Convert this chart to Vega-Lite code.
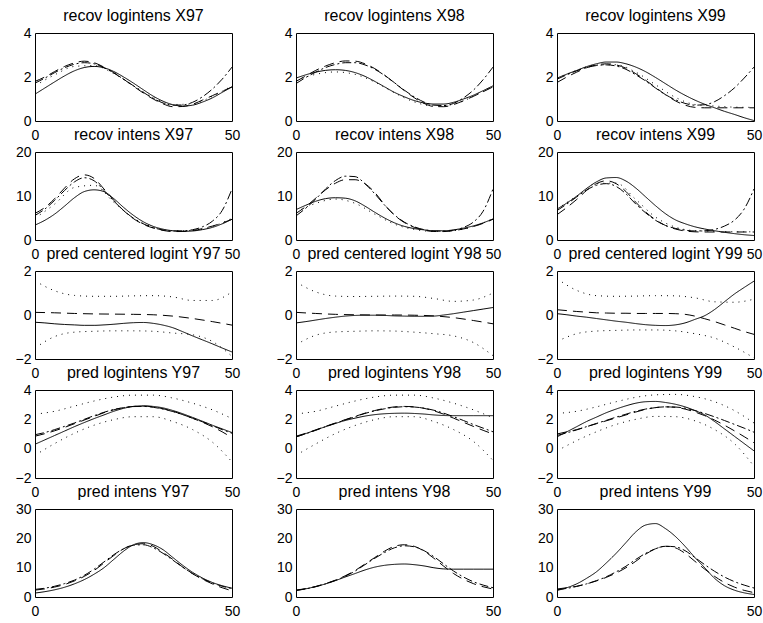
{
"$schema":"https://vega.github.io/schema/vega-lite/v6.json",
"background":"white",
"padding":{"left":14,"top":7,"right":0,"bottom":0},
"columns":3,
"spacing":{"row":31,"column":64},
"bounds":"flush",
"resolve":{"scale":{"x":"independent","y":"independent"}},
"config":{
"view":{"stroke":"black","strokeWidth":1},
"font":"Liberation Sans",
"axis":{"domain":false,"grid":false,"ticks":false,"labelFontSize":14,"labelColor":"black","labelFont":"Liberation Sans","labelFlush":false,"labelOverlap":false},
"axisX":{"labelPadding":7},
"axisY":{"labelPadding":4},
"title":{"fontSize":16,"fontWeight":"normal","font":"Liberation Sans","color":"black","offset":2,"baseline":"alphabetic"},
"line":{"color":"black","strokeWidth":1,"interpolate":"monotone","clip":true}
},
"concat":[
{"title":"recov logintens X97","width":197,"height":88,
"data":{"values":[
{"x":0,"s":"a","y":1.22},{"x":2.5,"s":"a","y":1.5},{"x":5,"s":"a","y":1.78},{"x":7.5,"s":"a","y":2.05},{"x":10,"s":"a","y":2.28},{"x":12.5,"s":"a","y":2.43},{"x":15,"s":"a","y":2.48},{"x":17.5,"s":"a","y":2.42},{"x":20,"s":"a","y":2.25},{"x":22.5,"s":"a","y":2.0},{"x":25,"s":"a","y":1.72},{"x":27.5,"s":"a","y":1.42},{"x":30,"s":"a","y":1.13},{"x":32.5,"s":"a","y":0.9},{"x":35,"s":"a","y":0.74},{"x":37.5,"s":"a","y":0.68},{"x":40,"s":"a","y":0.72},{"x":42.5,"s":"a","y":0.86},{"x":45,"s":"a","y":1.05},{"x":47.5,"s":"a","y":1.3},{"x":50,"s":"a","y":1.55},
{"x":0,"s":"b","y":1.8},{"x":2.5,"s":"b","y":2.0},{"x":5,"s":"b","y":2.25},{"x":7.5,"s":"b","y":2.48},{"x":10,"s":"b","y":2.64},{"x":12.5,"s":"b","y":2.72},{"x":15,"s":"b","y":2.65},{"x":17.5,"s":"b","y":2.45},{"x":20,"s":"b","y":2.2},{"x":22.5,"s":"b","y":1.9},{"x":25,"s":"b","y":1.58},{"x":27.5,"s":"b","y":1.27},{"x":30,"s":"b","y":1.0},{"x":32.5,"s":"b","y":0.78},{"x":35,"s":"b","y":0.65},{"x":37.5,"s":"b","y":0.66},{"x":40,"s":"b","y":0.76},{"x":42.5,"s":"b","y":0.95},{"x":45,"s":"b","y":1.15},{"x":47.5,"s":"b","y":1.35},{"x":50,"s":"b","y":1.55},
{"x":0,"s":"c","y":1.72},{"x":2.5,"s":"c","y":1.95},{"x":5,"s":"c","y":2.2},{"x":7.5,"s":"c","y":2.42},{"x":10,"s":"c","y":2.58},{"x":12.5,"s":"c","y":2.65},{"x":15,"s":"c","y":2.6},{"x":17.5,"s":"c","y":2.42},{"x":20,"s":"c","y":2.18},{"x":22.5,"s":"c","y":1.9},{"x":25,"s":"c","y":1.6},{"x":27.5,"s":"c","y":1.3},{"x":30,"s":"c","y":1.03},{"x":32.5,"s":"c","y":0.82},{"x":35,"s":"c","y":0.72},{"x":37.5,"s":"c","y":0.73},{"x":40,"s":"c","y":0.85},{"x":42.5,"s":"c","y":1.1},{"x":45,"s":"c","y":1.45},{"x":47.5,"s":"c","y":1.9},{"x":50,"s":"c","y":2.45},
{"x":0,"s":"d","y":1.6},{"x":5,"s":"d","y":2.1},{"x":10,"s":"d","y":2.48},{"x":15,"s":"d","y":2.52},{"x":20,"s":"d","y":2.15},{"x":25,"s":"d","y":1.6},{"x":30,"s":"d","y":1.07},{"x":35,"s":"d","y":0.75},{"x":40,"s":"d","y":0.78},{"x":45,"s":"d","y":1.12},{"x":50,"s":"d","y":1.6}
]},
"mark":"line",
"encoding":{
"x":{"field":"x","type":"quantitative","scale":{"domain":[0,50]},"axis":{"values":[0,50],"title":null}},
"y":{"field":"y","type":"quantitative","scale":{"domain":[0,4]},"axis":{"values":[0,2,4],"title":null}},
"strokeDash":{"field":"s","type":"nominal","scale":{"domain":["a","b","c","d","e"],"range":[[1,0],[10,6],[9,3,2,3],[1,5],[1,5]]},"legend":null}}},
{"title":"recov logintens X98","width":197,"height":88,
"data":{"values":[
{"x":0,"s":"a","y":1.95},{"x":2.5,"s":"a","y":2.1},{"x":5,"s":"a","y":2.22},{"x":7.5,"s":"a","y":2.3},{"x":10,"s":"a","y":2.33},{"x":12.5,"s":"a","y":2.3},{"x":15,"s":"a","y":2.2},{"x":17.5,"s":"a","y":2.03},{"x":20,"s":"a","y":1.8},{"x":22.5,"s":"a","y":1.55},{"x":25,"s":"a","y":1.3},{"x":27.5,"s":"a","y":1.1},{"x":30,"s":"a","y":0.93},{"x":32.5,"s":"a","y":0.82},{"x":35,"s":"a","y":0.77},{"x":37.5,"s":"a","y":0.77},{"x":40,"s":"a","y":0.85},{"x":42.5,"s":"a","y":1.0},{"x":45,"s":"a","y":1.17},{"x":47.5,"s":"a","y":1.38},{"x":50,"s":"a","y":1.6},
{"x":0,"s":"b","y":1.8},{"x":2.5,"s":"b","y":2.05},{"x":5,"s":"b","y":2.3},{"x":7.5,"s":"b","y":2.5},{"x":10,"s":"b","y":2.65},{"x":12.5,"s":"b","y":2.73},{"x":15,"s":"b","y":2.72},{"x":17.5,"s":"b","y":2.6},{"x":20,"s":"b","y":2.38},{"x":22.5,"s":"b","y":2.08},{"x":25,"s":"b","y":1.73},{"x":27.5,"s":"b","y":1.38},{"x":30,"s":"b","y":1.06},{"x":32.5,"s":"b","y":0.8},{"x":35,"s":"b","y":0.66},{"x":37.5,"s":"b","y":0.65},{"x":40,"s":"b","y":0.75},{"x":42.5,"s":"b","y":0.92},{"x":45,"s":"b","y":1.12},{"x":47.5,"s":"b","y":1.33},{"x":50,"s":"b","y":1.55},
{"x":0,"s":"c","y":1.7},{"x":2.5,"s":"c","y":1.98},{"x":5,"s":"c","y":2.22},{"x":7.5,"s":"c","y":2.43},{"x":10,"s":"c","y":2.57},{"x":12.5,"s":"c","y":2.65},{"x":15,"s":"c","y":2.65},{"x":17.5,"s":"c","y":2.55},{"x":20,"s":"c","y":2.35},{"x":22.5,"s":"c","y":2.07},{"x":25,"s":"c","y":1.74},{"x":27.5,"s":"c","y":1.4},{"x":30,"s":"c","y":1.1},{"x":32.5,"s":"c","y":0.86},{"x":35,"s":"c","y":0.72},{"x":37.5,"s":"c","y":0.7},{"x":40,"s":"c","y":0.8},{"x":42.5,"s":"c","y":1.05},{"x":45,"s":"c","y":1.4},{"x":47.5,"s":"c","y":1.88},{"x":50,"s":"c","y":2.45},
{"x":0,"s":"d","y":1.85},{"x":5,"s":"d","y":2.12},{"x":10,"s":"d","y":2.23},{"x":15,"s":"d","y":2.12},{"x":20,"s":"d","y":1.77},{"x":25,"s":"d","y":1.28},{"x":30,"s":"d","y":0.87},{"x":35,"s":"d","y":0.68},{"x":40,"s":"d","y":0.76},{"x":45,"s":"d","y":1.12},{"x":50,"s":"d","y":1.58}
]},
"mark":"line",
"encoding":{
"x":{"field":"x","type":"quantitative","scale":{"domain":[0,50]},"axis":{"values":[0,50],"title":null}},
"y":{"field":"y","type":"quantitative","scale":{"domain":[0,4]},"axis":{"values":[0,2,4],"title":null}},
"strokeDash":{"field":"s","type":"nominal","scale":{"domain":["a","b","c","d","e"],"range":[[1,0],[10,6],[9,3,2,3],[1,5],[1,5]]},"legend":null}}},
{"title":"recov logintens X99","width":197,"height":88,
"data":{"values":[
{"x":0,"s":"a","y":1.95},{"x":2.5,"s":"a","y":2.13},{"x":5,"s":"a","y":2.3},{"x":7.5,"s":"a","y":2.47},{"x":10,"s":"a","y":2.6},{"x":12.5,"s":"a","y":2.68},{"x":15,"s":"a","y":2.68},{"x":17.5,"s":"a","y":2.6},{"x":20,"s":"a","y":2.45},{"x":22.5,"s":"a","y":2.24},{"x":25,"s":"a","y":1.98},{"x":27.5,"s":"a","y":1.7},{"x":30,"s":"a","y":1.42},{"x":32.5,"s":"a","y":1.17},{"x":35,"s":"a","y":0.95},{"x":37.5,"s":"a","y":0.76},{"x":40,"s":"a","y":0.6},{"x":42.5,"s":"a","y":0.44},{"x":45,"s":"a","y":0.3},{"x":47.5,"s":"a","y":0.15},{"x":50,"s":"a","y":0.02},
{"x":0,"s":"b","y":1.75},{"x":2.5,"s":"b","y":2.0},{"x":5,"s":"b","y":2.22},{"x":7.5,"s":"b","y":2.42},{"x":10,"s":"b","y":2.55},{"x":12.5,"s":"b","y":2.6},{"x":15,"s":"b","y":2.55},{"x":17.5,"s":"b","y":2.4},{"x":20,"s":"b","y":2.15},{"x":22.5,"s":"b","y":1.85},{"x":25,"s":"b","y":1.53},{"x":27.5,"s":"b","y":1.2},{"x":30,"s":"b","y":0.92},{"x":32.5,"s":"b","y":0.72},{"x":35,"s":"b","y":0.62},{"x":37.5,"s":"b","y":0.6},{"x":40,"s":"b","y":0.6},{"x":42.5,"s":"b","y":0.6},{"x":45,"s":"b","y":0.6},{"x":47.5,"s":"b","y":0.6},{"x":50,"s":"b","y":0.6},
{"x":0,"s":"c","y":1.9},{"x":2.5,"s":"c","y":2.1},{"x":5,"s":"c","y":2.28},{"x":7.5,"s":"c","y":2.43},{"x":10,"s":"c","y":2.52},{"x":12.5,"s":"c","y":2.55},{"x":15,"s":"c","y":2.5},{"x":17.5,"s":"c","y":2.35},{"x":20,"s":"c","y":2.1},{"x":22.5,"s":"c","y":1.82},{"x":25,"s":"c","y":1.5},{"x":27.5,"s":"c","y":1.2},{"x":30,"s":"c","y":0.97},{"x":32.5,"s":"c","y":0.8},{"x":35,"s":"c","y":0.72},{"x":37.5,"s":"c","y":0.74},{"x":40,"s":"c","y":0.88},{"x":42.5,"s":"c","y":1.15},{"x":45,"s":"c","y":1.5},{"x":47.5,"s":"c","y":1.95},{"x":50,"s":"c","y":2.45},
{"x":0,"s":"d","y":1.95},{"x":5,"s":"d","y":2.3},{"x":10,"s":"d","y":2.55},{"x":15,"s":"d","y":2.56},{"x":20,"s":"d","y":2.22},{"x":25,"s":"d","y":1.65},{"x":30,"s":"d","y":1.08},{"x":35,"s":"d","y":0.75},{"x":40,"s":"d","y":0.68},{"x":45,"s":"d","y":0.63},{"x":50,"s":"d","y":0.62}
]},
"mark":"line",
"encoding":{
"x":{"field":"x","type":"quantitative","scale":{"domain":[0,50]},"axis":{"values":[0,50],"title":null}},
"y":{"field":"y","type":"quantitative","scale":{"domain":[0,4]},"axis":{"values":[0,2,4],"title":null}},
"strokeDash":{"field":"s","type":"nominal","scale":{"domain":["a","b","c","d","e"],"range":[[1,0],[10,6],[9,3,2,3],[1,5],[1,5]]},"legend":null}}},
{"title":"recov intens X97","width":197,"height":88,
"data":{"values":[
{"x":0,"s":"a","y":3.39},{"x":2.5,"s":"a","y":4.48},{"x":5,"s":"a","y":5.9},{"x":7.5,"s":"a","y":7.7},{"x":10,"s":"a","y":9.6},{"x":12.5,"s":"a","y":11.0},{"x":15,"s":"a","y":11.4},{"x":17.5,"s":"a","y":11.0},{"x":20,"s":"a","y":9.4},{"x":22.5,"s":"a","y":7.4},{"x":25,"s":"a","y":5.6},{"x":27.5,"s":"a","y":4.14},{"x":30,"s":"a","y":3.1},{"x":32.5,"s":"a","y":2.46},{"x":35,"s":"a","y":2.1},{"x":37.5,"s":"a","y":1.97},{"x":40,"s":"a","y":2.05},{"x":42.5,"s":"a","y":2.36},{"x":45,"s":"a","y":2.86},{"x":47.5,"s":"a","y":3.67},{"x":50,"s":"a","y":4.71},
{"x":0,"s":"b","y":6.05},{"x":2.5,"s":"b","y":7.39},{"x":5,"s":"b","y":9.4},{"x":7.5,"s":"b","y":11.8},{"x":10,"s":"b","y":13.9},{"x":12.5,"s":"b","y":14.8},{"x":15,"s":"b","y":14.0},{"x":17.5,"s":"b","y":11.6},{"x":20,"s":"b","y":9.03},{"x":22.5,"s":"b","y":6.69},{"x":25,"s":"b","y":4.85},{"x":27.5,"s":"b","y":3.56},{"x":30,"s":"b","y":2.72},{"x":32.5,"s":"b","y":2.18},{"x":35,"s":"b","y":1.92},{"x":37.5,"s":"b","y":1.93},{"x":40,"s":"b","y":2.14},{"x":42.5,"s":"b","y":2.59},{"x":45,"s":"b","y":3.16},{"x":47.5,"s":"b","y":3.86},{"x":50,"s":"b","y":4.71},
{"x":0,"s":"c","y":5.58},{"x":2.5,"s":"c","y":7.03},{"x":5,"s":"c","y":9.03},{"x":7.5,"s":"c","y":11.25},{"x":10,"s":"c","y":13.2},{"x":12.5,"s":"c","y":14.15},{"x":15,"s":"c","y":13.46},{"x":17.5,"s":"c","y":11.25},{"x":20,"s":"c","y":8.85},{"x":22.5,"s":"c","y":6.69},{"x":25,"s":"c","y":4.95},{"x":27.5,"s":"c","y":3.67},{"x":30,"s":"c","y":2.8},{"x":32.5,"s":"c","y":2.27},{"x":35,"s":"c","y":2.05},{"x":37.5,"s":"c","y":2.08},{"x":40,"s":"c","y":2.34},{"x":42.5,"s":"c","y":3.0},{"x":45,"s":"c","y":4.26},{"x":47.5,"s":"c","y":6.69},{"x":50,"s":"c","y":11.59},
{"x":0,"s":"d","y":4.95},{"x":5,"s":"d","y":8.17},{"x":10,"s":"d","y":11.94},{"x":15,"s":"d","y":12.43},{"x":20,"s":"d","y":8.58},{"x":25,"s":"d","y":4.95},{"x":30,"s":"d","y":2.92},{"x":35,"s":"d","y":2.12},{"x":40,"s":"d","y":2.18},{"x":45,"s":"d","y":3.06},{"x":50,"s":"d","y":4.95}
]},
"mark":"line",
"encoding":{
"x":{"field":"x","type":"quantitative","scale":{"domain":[0,50]},"axis":{"values":[0,50],"title":null}},
"y":{"field":"y","type":"quantitative","scale":{"domain":[0,20]},"axis":{"values":[0,10,20],"title":null}},
"strokeDash":{"field":"s","type":"nominal","scale":{"domain":["a","b","c","d","e"],"range":[[1,0],[10,6],[9,3,2,3],[1,5],[1,5]]},"legend":null}}},
{"title":"recov intens X98","width":197,"height":88,
"data":{"values":[
{"x":0,"s":"a","y":6.9},{"x":2.5,"s":"a","y":7.9},{"x":5,"s":"a","y":8.8},{"x":7.5,"s":"a","y":9.4},{"x":10,"s":"a","y":9.6},{"x":12.5,"s":"a","y":9.5},{"x":15,"s":"a","y":8.9},{"x":17.5,"s":"a","y":7.7},{"x":20,"s":"a","y":6.3},{"x":22.5,"s":"a","y":5.0},{"x":25,"s":"a","y":3.9},{"x":27.5,"s":"a","y":3.1},{"x":30,"s":"a","y":2.6},{"x":32.5,"s":"a","y":2.3},{"x":35,"s":"a","y":2.1},{"x":37.5,"s":"a","y":2.1},{"x":40,"s":"a","y":2.3},{"x":42.5,"s":"a","y":2.7},{"x":45,"s":"a","y":3.2},{"x":47.5,"s":"a","y":3.9},{"x":50,"s":"a","y":4.8},
{"x":0,"s":"b","y":6.05},{"x":2.5,"s":"b","y":7.6},{"x":5,"s":"b","y":9.5},{"x":7.5,"s":"b","y":11.4},{"x":10,"s":"b","y":12.9},{"x":12.5,"s":"b","y":13.7},{"x":15,"s":"b","y":13.7},{"x":17.5,"s":"b","y":12.8},{"x":20,"s":"b","y":10.8},{"x":22.5,"s":"b","y":8.0},{"x":25,"s":"b","y":5.64},{"x":27.5,"s":"b","y":3.97},{"x":30,"s":"b","y":2.89},{"x":32.5,"s":"b","y":2.23},{"x":35,"s":"b","y":1.93},{"x":37.5,"s":"b","y":1.92},{"x":40,"s":"b","y":2.12},{"x":42.5,"s":"b","y":2.51},{"x":45,"s":"b","y":3.06},{"x":47.5,"s":"b","y":3.78},{"x":50,"s":"b","y":4.71},
{"x":0,"s":"c","y":5.47},{"x":2.5,"s":"c","y":7.24},{"x":5,"s":"c","y":9.3},{"x":7.5,"s":"c","y":11.6},{"x":10,"s":"c","y":13.5},{"x":12.5,"s":"c","y":14.5},{"x":15,"s":"c","y":14.4},{"x":17.5,"s":"c","y":12.8},{"x":20,"s":"c","y":10.49},{"x":22.5,"s":"c","y":7.92},{"x":25,"s":"c","y":5.7},{"x":27.5,"s":"c","y":4.06},{"x":30,"s":"c","y":3.0},{"x":32.5,"s":"c","y":2.36},{"x":35,"s":"c","y":2.05},{"x":37.5,"s":"c","y":2.01},{"x":40,"s":"c","y":2.23},{"x":42.5,"s":"c","y":2.86},{"x":45,"s":"c","y":4.06},{"x":47.5,"s":"c","y":6.55},{"x":50,"s":"c","y":11.59},
{"x":0,"s":"d","y":6.36},{"x":5,"s":"d","y":8.33},{"x":10,"s":"d","y":9.3},{"x":15,"s":"d","y":8.33},{"x":20,"s":"d","y":5.87},{"x":25,"s":"d","y":3.6},{"x":30,"s":"d","y":2.39},{"x":35,"s":"d","y":1.97},{"x":40,"s":"d","y":2.14},{"x":45,"s":"d","y":3.06},{"x":50,"s":"d","y":4.85}
]},
"mark":"line",
"encoding":{
"x":{"field":"x","type":"quantitative","scale":{"domain":[0,50]},"axis":{"values":[0,50],"title":null}},
"y":{"field":"y","type":"quantitative","scale":{"domain":[0,20]},"axis":{"values":[0,10,20],"title":null}},
"strokeDash":{"field":"s","type":"nominal","scale":{"domain":["a","b","c","d","e"],"range":[[1,0],[10,6],[9,3,2,3],[1,5],[1,5]]},"legend":null}}},
{"title":"recov intens X99","width":197,"height":88,
"data":{"values":[
{"x":0,"s":"a","y":7.03},{"x":2.5,"s":"a","y":8.41},{"x":5,"s":"a","y":9.97},{"x":7.5,"s":"a","y":11.7},{"x":10,"s":"a","y":13.2},{"x":12.5,"s":"a","y":14.1},{"x":15,"s":"a","y":14.2},{"x":17.5,"s":"a","y":13.4},{"x":20,"s":"a","y":11.8},{"x":22.5,"s":"a","y":9.8},{"x":25,"s":"a","y":7.8},{"x":27.5,"s":"a","y":6.0},{"x":30,"s":"a","y":4.6},{"x":32.5,"s":"a","y":3.7},{"x":35,"s":"a","y":3.0},{"x":37.5,"s":"a","y":2.5},{"x":40,"s":"a","y":2.1},{"x":42.5,"s":"a","y":1.75},{"x":45,"s":"a","y":1.45},{"x":47.5,"s":"a","y":1.2},{"x":50,"s":"a","y":1.02},
{"x":0,"s":"b","y":5.75},{"x":2.5,"s":"b","y":7.39},{"x":5,"s":"b","y":9.21},{"x":7.5,"s":"b","y":11.25},{"x":10,"s":"b","y":12.81},{"x":12.5,"s":"b","y":13.46},{"x":15,"s":"b","y":12.81},{"x":17.5,"s":"b","y":11.02},{"x":20,"s":"b","y":8.58},{"x":22.5,"s":"b","y":6.36},{"x":25,"s":"b","y":4.62},{"x":27.5,"s":"b","y":3.32},{"x":30,"s":"b","y":2.51},{"x":32.5,"s":"b","y":2.05},{"x":35,"s":"b","y":1.86},{"x":37.5,"s":"b","y":1.82},{"x":40,"s":"b","y":1.82},{"x":42.5,"s":"b","y":1.82},{"x":45,"s":"b","y":1.82},{"x":47.5,"s":"b","y":1.82},{"x":50,"s":"b","y":1.82},
{"x":0,"s":"c","y":6.69},{"x":2.5,"s":"c","y":8.17},{"x":5,"s":"c","y":9.78},{"x":7.5,"s":"c","y":11.36},{"x":10,"s":"c","y":12.43},{"x":12.5,"s":"c","y":12.81},{"x":15,"s":"c","y":12.18},{"x":17.5,"s":"c","y":10.49},{"x":20,"s":"c","y":8.17},{"x":22.5,"s":"c","y":6.17},{"x":25,"s":"c","y":4.48},{"x":27.5,"s":"c","y":3.32},{"x":30,"s":"c","y":2.64},{"x":32.5,"s":"c","y":2.23},{"x":35,"s":"c","y":2.05},{"x":37.5,"s":"c","y":2.1},{"x":40,"s":"c","y":2.41},{"x":42.5,"s":"c","y":3.16},{"x":45,"s":"c","y":4.48},{"x":47.5,"s":"c","y":7.03},{"x":50,"s":"c","y":11.59},
{"x":0,"s":"d","y":7.03},{"x":5,"s":"d","y":9.97},{"x":10,"s":"d","y":12.81},{"x":15,"s":"d","y":12.94},{"x":20,"s":"d","y":9.21},{"x":25,"s":"d","y":5.21},{"x":30,"s":"d","y":2.94},{"x":35,"s":"d","y":2.12},{"x":40,"s":"d","y":1.97},{"x":45,"s":"d","y":1.88},{"x":50,"s":"d","y":1.86}
]},
"mark":"line",
"encoding":{
"x":{"field":"x","type":"quantitative","scale":{"domain":[0,50]},"axis":{"values":[0,50],"title":null}},
"y":{"field":"y","type":"quantitative","scale":{"domain":[0,20]},"axis":{"values":[0,10,20],"title":null}},
"strokeDash":{"field":"s","type":"nominal","scale":{"domain":["a","b","c","d","e"],"range":[[1,0],[10,6],[9,3,2,3],[1,5],[1,5]]},"legend":null}}},
{"title":"pred centered logint Y97","width":197,"height":88,
"data":{"values":[
{"x":0,"s":"a","y":-0.33},{"x":2.5,"s":"a","y":-0.36},{"x":5,"s":"a","y":-0.4},{"x":7.5,"s":"a","y":-0.43},{"x":10,"s":"a","y":-0.45},{"x":12.5,"s":"a","y":-0.47},{"x":15,"s":"a","y":-0.47},{"x":17.5,"s":"a","y":-0.45},{"x":20,"s":"a","y":-0.42},{"x":22.5,"s":"a","y":-0.38},{"x":25,"s":"a","y":-0.35},{"x":27.5,"s":"a","y":-0.34},{"x":30,"s":"a","y":-0.38},{"x":32.5,"s":"a","y":-0.46},{"x":35,"s":"a","y":-0.58},{"x":37.5,"s":"a","y":-0.76},{"x":40,"s":"a","y":-0.95},{"x":42.5,"s":"a","y":-1.13},{"x":45,"s":"a","y":-1.31},{"x":47.5,"s":"a","y":-1.5},{"x":50,"s":"a","y":-1.68},
{"x":0,"s":"b","y":0.12},{"x":5,"s":"b","y":0.1},{"x":10,"s":"b","y":0.07},{"x":15,"s":"b","y":0.05},{"x":20,"s":"b","y":0.04},{"x":25,"s":"b","y":0.03},{"x":30,"s":"b","y":0.01},{"x":35,"s":"b","y":-0.05},{"x":40,"s":"b","y":-0.16},{"x":45,"s":"b","y":-0.3},{"x":50,"s":"b","y":-0.46},
{"x":0,"s":"d","y":1.55},{"x":5,"s":"d","y":1.1},{"x":10,"s":"d","y":0.89},{"x":15,"s":"d","y":0.85},{"x":20,"s":"d","y":0.85},{"x":25,"s":"d","y":0.87},{"x":30,"s":"d","y":0.88},{"x":35,"s":"d","y":0.82},{"x":40,"s":"d","y":0.66},{"x":45,"s":"d","y":0.66},{"x":50,"s":"d","y":1.05},
{"x":0,"s":"e","y":-1.5},{"x":5,"s":"e","y":-0.98},{"x":10,"s":"e","y":-0.78},{"x":15,"s":"e","y":-0.74},{"x":20,"s":"e","y":-0.72},{"x":25,"s":"e","y":-0.72},{"x":30,"s":"e","y":-0.74},{"x":35,"s":"e","y":-0.82},{"x":40,"s":"e","y":-0.9},{"x":45,"s":"e","y":-1.2},{"x":50,"s":"e","y":-1.88}
]},
"mark":"line",
"encoding":{
"x":{"field":"x","type":"quantitative","scale":{"domain":[0,50]},"axis":{"values":[0,50],"title":null}},
"y":{"field":"y","type":"quantitative","scale":{"domain":[-2,2]},"axis":{"values":[-2,0,2],"title":null}},
"strokeDash":{"field":"s","type":"nominal","scale":{"domain":["a","b","c","d","e"],"range":[[1,0],[10,6],[9,3,2,3],[1,5],[1,5]]},"legend":null}}},
{"title":"pred centered logint Y98","width":197,"height":88,
"data":{"values":[
{"x":0,"s":"a","y":-0.36},{"x":2.5,"s":"a","y":-0.3},{"x":5,"s":"a","y":-0.23},{"x":7.5,"s":"a","y":-0.16},{"x":10,"s":"a","y":-0.1},{"x":12.5,"s":"a","y":-0.05},{"x":15,"s":"a","y":-0.02},{"x":17.5,"s":"a","y":-0.01},{"x":20,"s":"a","y":-0.01},{"x":22.5,"s":"a","y":-0.02},{"x":25,"s":"a","y":-0.04},{"x":27.5,"s":"a","y":-0.05},{"x":30,"s":"a","y":-0.06},{"x":32.5,"s":"a","y":-0.06},{"x":35,"s":"a","y":-0.05},{"x":37.5,"s":"a","y":0.0},{"x":40,"s":"a","y":0.06},{"x":42.5,"s":"a","y":0.13},{"x":45,"s":"a","y":0.2},{"x":47.5,"s":"a","y":0.27},{"x":50,"s":"a","y":0.34},
{"x":0,"s":"b","y":0.12},{"x":5,"s":"b","y":0.07},{"x":10,"s":"b","y":0.03},{"x":15,"s":"b","y":0.01},{"x":20,"s":"b","y":0.0},{"x":25,"s":"b","y":0.0},{"x":30,"s":"b","y":-0.01},{"x":35,"s":"b","y":-0.04},{"x":40,"s":"b","y":-0.12},{"x":45,"s":"b","y":-0.25},{"x":50,"s":"b","y":-0.4},
{"x":0,"s":"d","y":1.5},{"x":5,"s":"d","y":1.05},{"x":10,"s":"d","y":0.86},{"x":15,"s":"d","y":0.84},{"x":20,"s":"d","y":0.85},{"x":25,"s":"d","y":0.86},{"x":30,"s":"d","y":0.85},{"x":35,"s":"d","y":0.75},{"x":40,"s":"d","y":0.62},{"x":45,"s":"d","y":0.68},{"x":50,"s":"d","y":1.0},
{"x":0,"s":"e","y":-1.35},{"x":5,"s":"e","y":-0.92},{"x":10,"s":"e","y":-0.77},{"x":15,"s":"e","y":-0.74},{"x":20,"s":"e","y":-0.72},{"x":25,"s":"e","y":-0.73},{"x":30,"s":"e","y":-0.78},{"x":35,"s":"e","y":-0.85},{"x":40,"s":"e","y":-0.95},{"x":45,"s":"e","y":-1.25},{"x":50,"s":"e","y":-1.85}
]},
"mark":"line",
"encoding":{
"x":{"field":"x","type":"quantitative","scale":{"domain":[0,50]},"axis":{"values":[0,50],"title":null}},
"y":{"field":"y","type":"quantitative","scale":{"domain":[-2,2]},"axis":{"values":[-2,0,2],"title":null}},
"strokeDash":{"field":"s","type":"nominal","scale":{"domain":["a","b","c","d","e"],"range":[[1,0],[10,6],[9,3,2,3],[1,5],[1,5]]},"legend":null}}},
{"title":"pred centered logint Y99","width":197,"height":88,
"data":{"values":[
{"x":0,"s":"a","y":0.06},{"x":2.5,"s":"a","y":0.01},{"x":5,"s":"a","y":-0.05},{"x":7.5,"s":"a","y":-0.1},{"x":10,"s":"a","y":-0.16},{"x":12.5,"s":"a","y":-0.22},{"x":15,"s":"a","y":-0.28},{"x":17.5,"s":"a","y":-0.33},{"x":20,"s":"a","y":-0.39},{"x":22.5,"s":"a","y":-0.44},{"x":25,"s":"a","y":-0.47},{"x":27.5,"s":"a","y":-0.48},{"x":30,"s":"a","y":-0.45},{"x":32.5,"s":"a","y":-0.36},{"x":35,"s":"a","y":-0.2},{"x":37.5,"s":"a","y":-0.03},{"x":40,"s":"a","y":0.25},{"x":42.5,"s":"a","y":0.6},{"x":45,"s":"a","y":0.95},{"x":47.5,"s":"a","y":1.25},{"x":50,"s":"a","y":1.54},
{"x":0,"s":"b","y":0.24},{"x":2.5,"s":"b","y":0.2},{"x":5,"s":"b","y":0.16},{"x":7.5,"s":"b","y":0.13},{"x":10,"s":"b","y":0.1},{"x":12.5,"s":"b","y":0.09},{"x":15,"s":"b","y":0.08},{"x":17.5,"s":"b","y":0.08},{"x":20,"s":"b","y":0.07},{"x":22.5,"s":"b","y":0.07},{"x":25,"s":"b","y":0.07},{"x":27.5,"s":"b","y":0.07},{"x":30,"s":"b","y":0.06},{"x":32.5,"s":"b","y":0.03},{"x":35,"s":"b","y":-0.05},{"x":37.5,"s":"b","y":-0.17},{"x":40,"s":"b","y":-0.3},{"x":42.5,"s":"b","y":-0.45},{"x":45,"s":"b","y":-0.6},{"x":47.5,"s":"b","y":-0.75},{"x":50,"s":"b","y":-0.88},
{"x":0,"s":"d","y":1.65},{"x":5,"s":"d","y":1.12},{"x":10,"s":"d","y":0.88},{"x":15,"s":"d","y":0.85},{"x":20,"s":"d","y":0.86},{"x":25,"s":"d","y":0.88},{"x":30,"s":"d","y":0.87},{"x":35,"s":"d","y":0.78},{"x":40,"s":"d","y":0.6},{"x":45,"s":"d","y":0.58},{"x":50,"s":"d","y":0.72},
{"x":0,"s":"e","y":-1.2},{"x":5,"s":"e","y":-0.85},{"x":10,"s":"e","y":-0.73},{"x":15,"s":"e","y":-0.7},{"x":20,"s":"e","y":-0.68},{"x":25,"s":"e","y":-0.68},{"x":30,"s":"e","y":-0.72},{"x":35,"s":"e","y":-0.85},{"x":40,"s":"e","y":-1.05},{"x":45,"s":"e","y":-1.45},{"x":50,"s":"e","y":-1.95}
]},
"mark":"line",
"encoding":{
"x":{"field":"x","type":"quantitative","scale":{"domain":[0,50]},"axis":{"values":[0,50],"title":null}},
"y":{"field":"y","type":"quantitative","scale":{"domain":[-2,2]},"axis":{"values":[-2,0,2],"title":null}},
"strokeDash":{"field":"s","type":"nominal","scale":{"domain":["a","b","c","d","e"],"range":[[1,0],[10,6],[9,3,2,3],[1,5],[1,5]]},"legend":null}}},
{"title":"pred logintens Y97","width":197,"height":88,
"data":{"values":[
{"x":0,"s":"a","y":0.3},{"x":2.5,"s":"a","y":0.6},{"x":5,"s":"a","y":0.9},{"x":7.5,"s":"a","y":1.2},{"x":10,"s":"a","y":1.5},{"x":12.5,"s":"a","y":1.78},{"x":15,"s":"a","y":2.05},{"x":17.5,"s":"a","y":2.3},{"x":20,"s":"a","y":2.55},{"x":22.5,"s":"a","y":2.75},{"x":25,"s":"a","y":2.88},{"x":27.5,"s":"a","y":2.92},{"x":30,"s":"a","y":2.88},{"x":32.5,"s":"a","y":2.78},{"x":35,"s":"a","y":2.6},{"x":37.5,"s":"a","y":2.38},{"x":40,"s":"a","y":2.13},{"x":42.5,"s":"a","y":1.87},{"x":45,"s":"a","y":1.6},{"x":47.5,"s":"a","y":1.35},{"x":50,"s":"a","y":1.1},
{"x":0,"s":"b","y":0.85},{"x":2.5,"s":"b","y":1.02},{"x":5,"s":"b","y":1.22},{"x":7.5,"s":"b","y":1.45},{"x":10,"s":"b","y":1.7},{"x":12.5,"s":"b","y":1.95},{"x":15,"s":"b","y":2.2},{"x":17.5,"s":"b","y":2.45},{"x":20,"s":"b","y":2.65},{"x":22.5,"s":"b","y":2.8},{"x":25,"s":"b","y":2.88},{"x":27.5,"s":"b","y":2.9},{"x":30,"s":"b","y":2.85},{"x":32.5,"s":"b","y":2.72},{"x":35,"s":"b","y":2.55},{"x":37.5,"s":"b","y":2.32},{"x":40,"s":"b","y":2.07},{"x":42.5,"s":"b","y":1.8},{"x":45,"s":"b","y":1.5},{"x":47.5,"s":"b","y":1.15},{"x":50,"s":"b","y":0.75},
{"x":0,"s":"c","y":0.95},{"x":2.5,"s":"c","y":1.1},{"x":5,"s":"c","y":1.3},{"x":7.5,"s":"c","y":1.52},{"x":10,"s":"c","y":1.75},{"x":12.5,"s":"c","y":2.0},{"x":15,"s":"c","y":2.25},{"x":17.5,"s":"c","y":2.48},{"x":20,"s":"c","y":2.67},{"x":22.5,"s":"c","y":2.8},{"x":25,"s":"c","y":2.87},{"x":27.5,"s":"c","y":2.88},{"x":30,"s":"c","y":2.82},{"x":32.5,"s":"c","y":2.7},{"x":35,"s":"c","y":2.53},{"x":37.5,"s":"c","y":2.32},{"x":40,"s":"c","y":2.08},{"x":42.5,"s":"c","y":1.83},{"x":45,"s":"c","y":1.57},{"x":47.5,"s":"c","y":1.3},{"x":50,"s":"c","y":1.05},
{"x":0,"s":"d","y":2.35},{"x":5,"s":"d","y":2.55},{"x":10,"s":"d","y":2.9},{"x":15,"s":"d","y":3.25},{"x":20,"s":"d","y":3.52},{"x":25,"s":"d","y":3.65},{"x":30,"s":"d","y":3.65},{"x":35,"s":"d","y":3.45},{"x":40,"s":"d","y":3.1},{"x":45,"s":"d","y":2.65},{"x":50,"s":"d","y":2.05},
{"x":0,"s":"e","y":-0.45},{"x":5,"s":"e","y":0.35},{"x":10,"s":"e","y":1.05},{"x":15,"s":"e","y":1.6},{"x":20,"s":"e","y":1.98},{"x":25,"s":"e","y":2.18},{"x":30,"s":"e","y":2.18},{"x":35,"s":"e","y":1.85},{"x":40,"s":"e","y":1.3},{"x":45,"s":"e","y":0.45},{"x":50,"s":"e","y":-0.9}
]},
"mark":"line",
"encoding":{
"x":{"field":"x","type":"quantitative","scale":{"domain":[0,50]},"axis":{"values":[0,50],"title":null}},
"y":{"field":"y","type":"quantitative","scale":{"domain":[-2,4]},"axis":{"values":[-2,0,2,4],"title":null}},
"strokeDash":{"field":"s","type":"nominal","scale":{"domain":["a","b","c","d","e"],"range":[[1,0],[10,6],[9,3,2,3],[1,5],[1,5]]},"legend":null}}},
{"title":"pred logintens Y98","width":197,"height":88,
"data":{"values":[
{"x":0,"s":"a","y":0.8},{"x":2.5,"s":"a","y":1.03},{"x":5,"s":"a","y":1.27},{"x":7.5,"s":"a","y":1.5},{"x":10,"s":"a","y":1.72},{"x":12.5,"s":"a","y":1.92},{"x":15,"s":"a","y":2.08},{"x":17.5,"s":"a","y":2.22},{"x":20,"s":"a","y":2.32},{"x":22.5,"s":"a","y":2.38},{"x":25,"s":"a","y":2.41},{"x":27.5,"s":"a","y":2.42},{"x":30,"s":"a","y":2.4},{"x":32.5,"s":"a","y":2.36},{"x":35,"s":"a","y":2.3},{"x":37.5,"s":"a","y":2.26},{"x":40,"s":"a","y":2.25},{"x":42.5,"s":"a","y":2.25},{"x":45,"s":"a","y":2.25},{"x":47.5,"s":"a","y":2.25},{"x":50,"s":"a","y":2.25},
{"x":0,"s":"b","y":0.85},{"x":2.5,"s":"b","y":1.05},{"x":5,"s":"b","y":1.28},{"x":7.5,"s":"b","y":1.52},{"x":10,"s":"b","y":1.75},{"x":12.5,"s":"b","y":1.98},{"x":15,"s":"b","y":2.2},{"x":17.5,"s":"b","y":2.42},{"x":20,"s":"b","y":2.6},{"x":22.5,"s":"b","y":2.75},{"x":25,"s":"b","y":2.85},{"x":27.5,"s":"b","y":2.88},{"x":30,"s":"b","y":2.85},{"x":32.5,"s":"b","y":2.75},{"x":35,"s":"b","y":2.58},{"x":37.5,"s":"b","y":2.35},{"x":40,"s":"b","y":2.08},{"x":42.5,"s":"b","y":1.8},{"x":45,"s":"b","y":1.52},{"x":47.5,"s":"b","y":1.25},{"x":50,"s":"b","y":1.0},
{"x":0,"s":"c","y":0.8},{"x":2.5,"s":"c","y":1.02},{"x":5,"s":"c","y":1.25},{"x":7.5,"s":"c","y":1.5},{"x":10,"s":"c","y":1.73},{"x":12.5,"s":"c","y":1.96},{"x":15,"s":"c","y":2.18},{"x":17.5,"s":"c","y":2.4},{"x":20,"s":"c","y":2.58},{"x":22.5,"s":"c","y":2.72},{"x":25,"s":"c","y":2.82},{"x":27.5,"s":"c","y":2.86},{"x":30,"s":"c","y":2.84},{"x":32.5,"s":"c","y":2.76},{"x":35,"s":"c","y":2.62},{"x":37.5,"s":"c","y":2.42},{"x":40,"s":"c","y":2.18},{"x":42.5,"s":"c","y":1.92},{"x":45,"s":"c","y":1.65},{"x":47.5,"s":"c","y":1.4},{"x":50,"s":"c","y":1.15},
{"x":0,"s":"d","y":2.37},{"x":5,"s":"d","y":2.55},{"x":10,"s":"d","y":2.9},{"x":15,"s":"d","y":3.25},{"x":20,"s":"d","y":3.52},{"x":25,"s":"d","y":3.65},{"x":30,"s":"d","y":3.65},{"x":35,"s":"d","y":3.45},{"x":40,"s":"d","y":3.1},{"x":45,"s":"d","y":2.65},{"x":50,"s":"d","y":2.1},
{"x":0,"s":"e","y":-0.45},{"x":5,"s":"e","y":0.32},{"x":10,"s":"e","y":1.03},{"x":15,"s":"e","y":1.58},{"x":20,"s":"e","y":1.98},{"x":25,"s":"e","y":2.18},{"x":30,"s":"e","y":2.18},{"x":35,"s":"e","y":1.85},{"x":40,"s":"e","y":1.3},{"x":45,"s":"e","y":0.5},{"x":50,"s":"e","y":-0.8}
]},
"mark":"line",
"encoding":{
"x":{"field":"x","type":"quantitative","scale":{"domain":[0,50]},"axis":{"values":[0,50],"title":null}},
"y":{"field":"y","type":"quantitative","scale":{"domain":[-2,4]},"axis":{"values":[-2,0,2,4],"title":null}},
"strokeDash":{"field":"s","type":"nominal","scale":{"domain":["a","b","c","d","e"],"range":[[1,0],[10,6],[9,3,2,3],[1,5],[1,5]]},"legend":null}}},
{"title":"pred logintens Y99","width":197,"height":88,
"data":{"values":[
{"x":0,"s":"a","y":0.8},{"x":2.5,"s":"a","y":1.15},{"x":5,"s":"a","y":1.5},{"x":7.5,"s":"a","y":1.85},{"x":10,"s":"a","y":2.15},{"x":12.5,"s":"a","y":2.45},{"x":15,"s":"a","y":2.7},{"x":17.5,"s":"a","y":2.92},{"x":20,"s":"a","y":3.1},{"x":22.5,"s":"a","y":3.2},{"x":25,"s":"a","y":3.22},{"x":27.5,"s":"a","y":3.15},{"x":30,"s":"a","y":3.03},{"x":32.5,"s":"a","y":2.85},{"x":35,"s":"a","y":2.6},{"x":37.5,"s":"a","y":2.3},{"x":40,"s":"a","y":1.85},{"x":42.5,"s":"a","y":1.35},{"x":45,"s":"a","y":0.85},{"x":47.5,"s":"a","y":0.35},{"x":50,"s":"a","y":-0.15},
{"x":0,"s":"b","y":1.0},{"x":2.5,"s":"b","y":1.15},{"x":5,"s":"b","y":1.3},{"x":7.5,"s":"b","y":1.5},{"x":10,"s":"b","y":1.7},{"x":12.5,"s":"b","y":1.9},{"x":15,"s":"b","y":2.1},{"x":17.5,"s":"b","y":2.3},{"x":20,"s":"b","y":2.5},{"x":22.5,"s":"b","y":2.68},{"x":25,"s":"b","y":2.8},{"x":27.5,"s":"b","y":2.85},{"x":30,"s":"b","y":2.82},{"x":32.5,"s":"b","y":2.7},{"x":35,"s":"b","y":2.5},{"x":37.5,"s":"b","y":2.25},{"x":40,"s":"b","y":1.95},{"x":42.5,"s":"b","y":1.6},{"x":45,"s":"b","y":1.22},{"x":47.5,"s":"b","y":0.82},{"x":50,"s":"b","y":0.4},
{"x":0,"s":"c","y":0.9},{"x":2.5,"s":"c","y":1.08},{"x":5,"s":"c","y":1.28},{"x":7.5,"s":"c","y":1.5},{"x":10,"s":"c","y":1.72},{"x":12.5,"s":"c","y":1.93},{"x":15,"s":"c","y":2.15},{"x":17.5,"s":"c","y":2.35},{"x":20,"s":"c","y":2.55},{"x":22.5,"s":"c","y":2.7},{"x":25,"s":"c","y":2.8},{"x":27.5,"s":"c","y":2.85},{"x":30,"s":"c","y":2.84},{"x":32.5,"s":"c","y":2.76},{"x":35,"s":"c","y":2.6},{"x":37.5,"s":"c","y":2.4},{"x":40,"s":"c","y":2.17},{"x":42.5,"s":"c","y":1.92},{"x":45,"s":"c","y":1.66},{"x":47.5,"s":"c","y":1.4},{"x":50,"s":"c","y":1.12},
{"x":0,"s":"d","y":2.4},{"x":5,"s":"d","y":2.55},{"x":10,"s":"d","y":2.85},{"x":15,"s":"d","y":3.2},{"x":20,"s":"d","y":3.5},{"x":25,"s":"d","y":3.67},{"x":30,"s":"d","y":3.7},{"x":35,"s":"d","y":3.55},{"x":40,"s":"d","y":3.2},{"x":45,"s":"d","y":2.6},{"x":50,"s":"d","y":1.75},
{"x":0,"s":"e","y":-0.15},{"x":5,"s":"e","y":0.55},{"x":10,"s":"e","y":1.15},{"x":15,"s":"e","y":1.65},{"x":20,"s":"e","y":2.0},{"x":25,"s":"e","y":2.2},{"x":30,"s":"e","y":2.18},{"x":35,"s":"e","y":1.9},{"x":40,"s":"e","y":1.3},{"x":45,"s":"e","y":0.35},{"x":50,"s":"e","y":-1.2}
]},
"mark":"line",
"encoding":{
"x":{"field":"x","type":"quantitative","scale":{"domain":[0,50]},"axis":{"values":[0,50],"title":null}},
"y":{"field":"y","type":"quantitative","scale":{"domain":[-2,4]},"axis":{"values":[-2,0,2,4],"title":null}},
"strokeDash":{"field":"s","type":"nominal","scale":{"domain":["a","b","c","d","e"],"range":[[1,0],[10,6],[9,3,2,3],[1,5],[1,5]]},"legend":null}}},
{"title":"pred intens Y97","width":197,"height":88,
"data":{"values":[
{"x":0,"s":"a","y":1.35},{"x":2.5,"s":"a","y":1.82},{"x":5,"s":"a","y":2.46},{"x":7.5,"s":"a","y":3.32},{"x":10,"s":"a","y":4.48},{"x":12.5,"s":"a","y":5.93},{"x":15,"s":"a","y":7.77},{"x":17.5,"s":"a","y":9.97},{"x":20,"s":"a","y":12.81},{"x":22.5,"s":"a","y":15.64},{"x":25,"s":"a","y":17.81},{"x":27.5,"s":"a","y":18.54},{"x":30,"s":"a","y":17.81},{"x":32.5,"s":"a","y":16.12},{"x":35,"s":"a","y":13.46},{"x":37.5,"s":"a","y":10.8},{"x":40,"s":"a","y":8.41},{"x":42.5,"s":"a","y":6.49},{"x":45,"s":"a","y":4.95},{"x":47.5,"s":"a","y":3.86},{"x":50,"s":"a","y":3.0},
{"x":0,"s":"b","y":2.34},{"x":2.5,"s":"b","y":2.77},{"x":5,"s":"b","y":3.39},{"x":7.5,"s":"b","y":4.26},{"x":10,"s":"b","y":5.47},{"x":12.5,"s":"b","y":7.03},{"x":15,"s":"b","y":9.03},{"x":17.5,"s":"b","y":11.59},{"x":20,"s":"b","y":14.15},{"x":22.5,"s":"b","y":16.44},{"x":25,"s":"b","y":17.81},{"x":27.5,"s":"b","y":18.17},{"x":30,"s":"b","y":17.29},{"x":32.5,"s":"b","y":15.18},{"x":35,"s":"b","y":12.81},{"x":37.5,"s":"b","y":10.18},{"x":40,"s":"b","y":7.92},{"x":42.5,"s":"b","y":6.05},{"x":45,"s":"b","y":4.48},{"x":47.5,"s":"b","y":3.16},{"x":50,"s":"b","y":2.12},
{"x":0,"s":"c","y":2.59},{"x":2.5,"s":"c","y":3.0},{"x":5,"s":"c","y":3.67},{"x":7.5,"s":"c","y":4.57},{"x":10,"s":"c","y":5.75},{"x":12.5,"s":"c","y":7.39},{"x":15,"s":"c","y":9.49},{"x":17.5,"s":"c","y":11.94},{"x":20,"s":"c","y":14.44},{"x":22.5,"s":"c","y":16.44},{"x":25,"s":"c","y":17.64},{"x":27.5,"s":"c","y":17.81},{"x":30,"s":"c","y":16.78},{"x":32.5,"s":"c","y":14.88},{"x":35,"s":"c","y":12.55},{"x":37.5,"s":"c","y":10.18},{"x":40,"s":"c","y":8.0},{"x":42.5,"s":"c","y":6.23},{"x":45,"s":"c","y":4.81},{"x":47.5,"s":"c","y":3.67},{"x":50,"s":"c","y":2.86}
]},
"mark":"line",
"encoding":{
"x":{"field":"x","type":"quantitative","scale":{"domain":[0,50]},"axis":{"values":[0,50],"title":null}},
"y":{"field":"y","type":"quantitative","scale":{"domain":[0,30]},"axis":{"values":[0,10,20,30],"title":null}},
"strokeDash":{"field":"s","type":"nominal","scale":{"domain":["a","b","c","d","e"],"range":[[1,0],[10,6],[9,3,2,3],[1,5],[1,5]]},"legend":null}}},
{"title":"pred intens Y98","width":197,"height":88,
"data":{"values":[
{"x":0,"s":"a","y":2.23},{"x":2.5,"s":"a","y":2.8},{"x":5,"s":"a","y":3.56},{"x":7.5,"s":"a","y":4.48},{"x":10,"s":"a","y":5.58},{"x":12.5,"s":"a","y":6.82},{"x":15,"s":"a","y":8.0},{"x":17.5,"s":"a","y":9.21},{"x":20,"s":"a","y":10.18},{"x":22.5,"s":"a","y":10.8},{"x":25,"s":"a","y":11.13},{"x":27.5,"s":"a","y":11.25},{"x":30,"s":"a","y":11.02},{"x":32.5,"s":"a","y":10.59},{"x":35,"s":"a","y":9.97},{"x":37.5,"s":"a","y":9.58},{"x":40,"s":"a","y":9.49},{"x":42.5,"s":"a","y":9.49},{"x":45,"s":"a","y":9.49},{"x":47.5,"s":"a","y":9.49},{"x":50,"s":"a","y":9.49},
{"x":0,"s":"b","y":2.34},{"x":2.5,"s":"b","y":2.86},{"x":5,"s":"b","y":3.6},{"x":7.5,"s":"b","y":4.57},{"x":10,"s":"b","y":5.75},{"x":12.5,"s":"b","y":7.24},{"x":15,"s":"b","y":9.03},{"x":17.5,"s":"b","y":11.25},{"x":20,"s":"b","y":13.46},{"x":22.5,"s":"b","y":15.64},{"x":25,"s":"b","y":17.29},{"x":27.5,"s":"b","y":17.81},{"x":30,"s":"b","y":17.29},{"x":32.5,"s":"b","y":15.64},{"x":35,"s":"b","y":13.2},{"x":37.5,"s":"b","y":10.49},{"x":40,"s":"b","y":8.0},{"x":42.5,"s":"b","y":6.05},{"x":45,"s":"b","y":4.57},{"x":47.5,"s":"b","y":3.49},{"x":50,"s":"b","y":2.72},
{"x":0,"s":"c","y":2.23},{"x":2.5,"s":"c","y":2.77},{"x":5,"s":"c","y":3.49},{"x":7.5,"s":"c","y":4.48},{"x":10,"s":"c","y":5.64},{"x":12.5,"s":"c","y":7.1},{"x":15,"s":"c","y":8.85},{"x":17.5,"s":"c","y":11.02},{"x":20,"s":"c","y":13.2},{"x":22.5,"s":"c","y":15.18},{"x":25,"s":"c","y":16.78},{"x":27.5,"s":"c","y":17.46},{"x":30,"s":"c","y":17.12},{"x":32.5,"s":"c","y":15.8},{"x":35,"s":"c","y":13.74},{"x":37.5,"s":"c","y":11.25},{"x":40,"s":"c","y":8.85},{"x":42.5,"s":"c","y":6.82},{"x":45,"s":"c","y":5.21},{"x":47.5,"s":"c","y":4.06},{"x":50,"s":"c","y":3.16}
]},
"mark":"line",
"encoding":{
"x":{"field":"x","type":"quantitative","scale":{"domain":[0,50]},"axis":{"values":[0,50],"title":null}},
"y":{"field":"y","type":"quantitative","scale":{"domain":[0,30]},"axis":{"values":[0,10,20,30],"title":null}},
"strokeDash":{"field":"s","type":"nominal","scale":{"domain":["a","b","c","d","e"],"range":[[1,0],[10,6],[9,3,2,3],[1,5],[1,5]]},"legend":null}}},
{"title":"pred intens Y99","width":197,"height":88,
"data":{"values":[
{"x":0,"s":"a","y":2.23},{"x":2.5,"s":"a","y":3.16},{"x":5,"s":"a","y":4.48},{"x":7.5,"s":"a","y":6.36},{"x":10,"s":"a","y":8.58},{"x":12.5,"s":"a","y":11.59},{"x":15,"s":"a","y":14.88},{"x":17.5,"s":"a","y":18.54},{"x":20,"s":"a","y":22.2},{"x":22.5,"s":"a","y":24.53},{"x":25,"s":"a","y":25.03},{"x":27.5,"s":"a","y":23.34},{"x":30,"s":"a","y":20.7},{"x":32.5,"s":"a","y":17.29},{"x":35,"s":"a","y":13.46},{"x":37.5,"s":"a","y":9.97},{"x":40,"s":"a","y":6.36},{"x":42.5,"s":"a","y":3.86},{"x":45,"s":"a","y":2.34},{"x":47.5,"s":"a","y":1.42},{"x":50,"s":"a","y":0.86},
{"x":0,"s":"b","y":2.72},{"x":2.5,"s":"b","y":3.16},{"x":5,"s":"b","y":3.67},{"x":7.5,"s":"b","y":4.48},{"x":10,"s":"b","y":5.47},{"x":12.5,"s":"b","y":6.69},{"x":15,"s":"b","y":8.17},{"x":17.5,"s":"b","y":9.97},{"x":20,"s":"b","y":12.18},{"x":22.5,"s":"b","y":14.59},{"x":25,"s":"b","y":16.44},{"x":27.5,"s":"b","y":17.29},{"x":30,"s":"b","y":16.78},{"x":32.5,"s":"b","y":14.88},{"x":35,"s":"b","y":12.18},{"x":37.5,"s":"b","y":9.49},{"x":40,"s":"b","y":7.03},{"x":42.5,"s":"b","y":4.95},{"x":45,"s":"b","y":3.39},{"x":47.5,"s":"b","y":2.27},{"x":50,"s":"b","y":1.49},
{"x":0,"s":"c","y":2.46},{"x":2.5,"s":"c","y":2.94},{"x":5,"s":"c","y":3.6},{"x":7.5,"s":"c","y":4.48},{"x":10,"s":"c","y":5.58},{"x":12.5,"s":"c","y":6.89},{"x":15,"s":"c","y":8.58},{"x":17.5,"s":"c","y":10.49},{"x":20,"s":"c","y":12.81},{"x":22.5,"s":"c","y":14.88},{"x":25,"s":"c","y":16.44},{"x":27.5,"s":"c","y":17.29},{"x":30,"s":"c","y":17.12},{"x":32.5,"s":"c","y":15.8},{"x":35,"s":"c","y":13.46},{"x":37.5,"s":"c","y":11.02},{"x":40,"s":"c","y":8.76},{"x":42.5,"s":"c","y":6.82},{"x":45,"s":"c","y":5.26},{"x":47.5,"s":"c","y":4.06},{"x":50,"s":"c","y":3.06}
]},
"mark":"line",
"encoding":{
"x":{"field":"x","type":"quantitative","scale":{"domain":[0,50]},"axis":{"values":[0,50],"title":null}},
"y":{"field":"y","type":"quantitative","scale":{"domain":[0,30]},"axis":{"values":[0,10,20,30],"title":null}},
"strokeDash":{"field":"s","type":"nominal","scale":{"domain":["a","b","c","d","e"],"range":[[1,0],[10,6],[9,3,2,3],[1,5],[1,5]]},"legend":null}}}
]
}
